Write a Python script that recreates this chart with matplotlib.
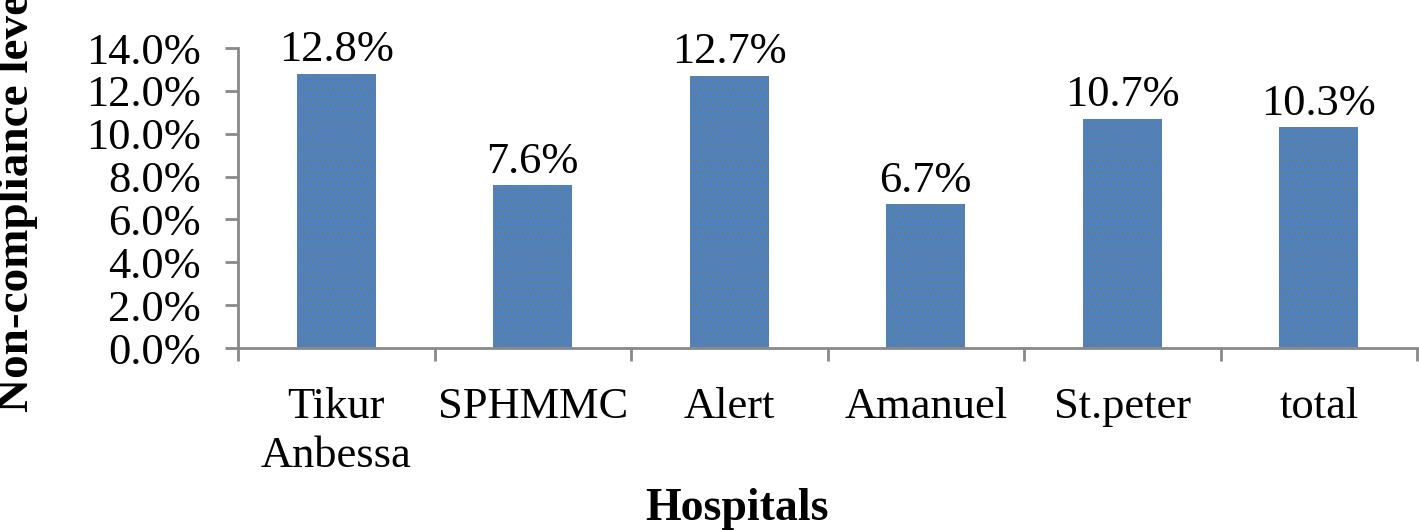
import matplotlib
matplotlib.use("Agg")
import matplotlib.pyplot as plt

hospitals = ["Tikur\nAnbessa", "SPHMMC", "Alert", "Amanuel", "St.peter", "total"]
noncompliance = [12.8, 7.6, 12.7, 6.7, 10.7, 10.3]
yticks = [0, 2, 4, 6, 8, 10, 12, 14]

plt.rcParams['font.family'] = ['Liberation Serif', 'DejaVu Serif']
plt.rcParams['hatch.color'] = '#7d7766'
plt.rcParams['hatch.linewidth'] = 0.5

W, H = 1419, 530
fig = plt.figure(figsize=(W / 100, H / 100), dpi=100)
ax = fig.add_axes([238 / W, 1 - 348 / H, (1417 - 238) / W, 300 / H])

x = list(range(len(hospitals)))
bars = ax.bar(x, noncompliance, width=0.4, color='#4f81bd', edgecolor='#7d7766',
              hatch='...', linewidth=0, zorder=2)

for xi, v in zip(x, noncompliance):
    ax.annotate(f"{v:.1f}%", (xi, v), xytext=(0, 9), textcoords='offset points',
                ha='center', va='baseline', fontsize=32)

ax.set_xlim(-0.5, len(hospitals) - 0.5)
ax.set_ylim(0, 14)
ax.set_yticks(yticks)
ax.set_yticklabels([f"{t:.1f}%" for t in yticks])
ax.set_xticks(x)
ax.set_xticklabels(hospitals, linespacing=1.28)
ax.set_xticks([i - 0.5 for i in range(len(hospitals) + 1)], minor=True)

for s in ['top', 'right']:
    ax.spines[s].set_visible(False)
for s in ['left', 'bottom']:
    ax.spines[s].set_color('#898989')
    ax.spines[s].set_linewidth(2)

ax.tick_params(axis='y', which='major', direction='out', length=9.5, width=2,
               color='#898989', labelsize=32, pad=17)
ax.tick_params(axis='x', which='major', length=0, labelsize=32, pad=28)
ax.tick_params(axis='x', which='minor', direction='out', length=9.5, width=2,
               color='#898989')

fig.text(737 / W, 1 - 520 / H, "Hospitals", ha='center', va='baseline',
         fontsize=33, fontweight='bold')
fig.text(17 / W, 1 - 412 / H, "Non-compliance level", rotation=90,
         ha='center', va='bottom', fontsize=34, fontweight='bold')

fig.savefig("out.png", dpi=100)
